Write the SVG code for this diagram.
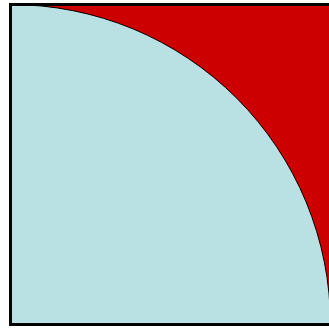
<svg xmlns="http://www.w3.org/2000/svg" width="329" height="328" viewBox="0 0 329 328">
<rect width="329" height="328" fill="#ffffff"/>
<g id="square">
<rect x="10.5" y="4.5" width="320" height="320" fill="#cc0000"/>
</g>
<g id="quarter">
<path d="M10.5,4.5 A320,320 0 0 1 330.5,324.5 L10.5,324.5 Z" fill="#b9e1e4" stroke="#000" stroke-width="1"/>
</g>
<rect x="10.5" y="4.5" width="320" height="320" fill="none" stroke="#000" stroke-width="3"/>
</svg>
